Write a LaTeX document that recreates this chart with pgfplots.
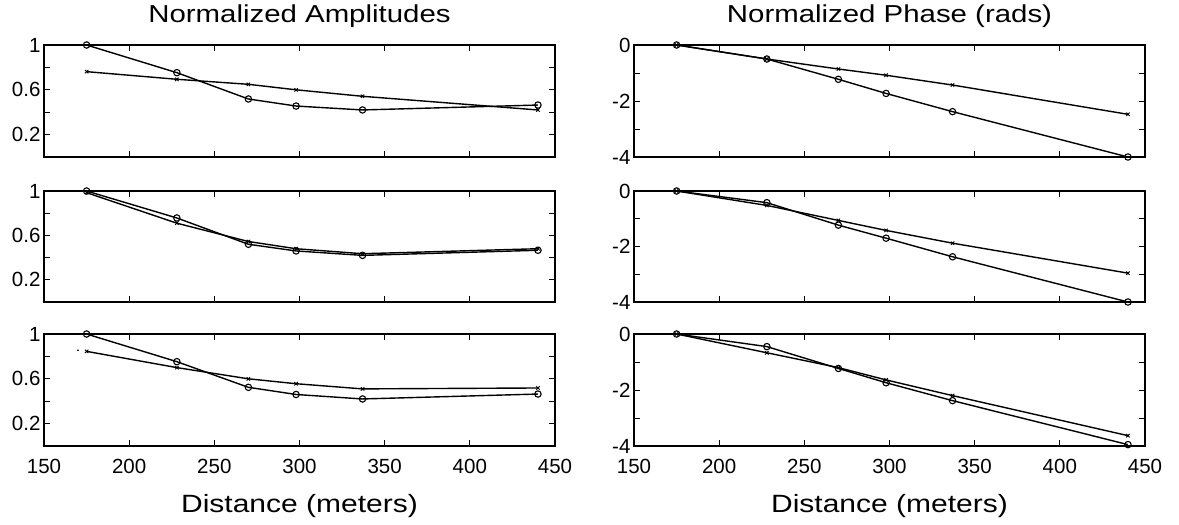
\documentclass[border=0pt]{standalone}
\usepackage{fontspec}
\setmainfont{Liberation Sans}
\newfontfamily\widefont[FakeStretch=1.2]{Liberation Sans}
\usepackage{pgfplots}
\pgfplotsset{compat=1.18}
\begin{document}
\begin{tikzpicture}
\useasboundingbox (0,0) rectangle (1179pt,-525pt);
\pgfplotsset{
 panel/.style={scale only axis, width=511pt, anchor=north west,
   axis line style={line width=1.7pt}, major tick style={line width=1pt, black}, major tick length=6pt,
   tick align=inside, xmin=150, xmax=450, xtick={150,200,...,450},
   ticklabel style={font=\fontsize{20.5}{20.5}\selectfont},
   xticklabel style={anchor=base, yshift=-27pt},
   clip=false,
   title style={font=\widefont\fontsize{24.5}{24.5}\selectfont, at={(axis description cs:0.5,1)}, anchor=base, yshift=17pt},
   xlabel style={font=\widefont\fontsize{25}{25}\selectfont, at={(axis description cs:0.5,0)}, anchor=base, yshift=-66pt},
 },
 amp/.style={panel, ymin=0, ymax=1, ytick={0.2,0.4,...,1.0}, yticklabels={0.2,,0.6,,1}},
 pha/.style={panel, ymin=-4, ymax=0, ytick={-4,-3,...,0}, yticklabels={-4,,-2,,0}},
 notx/.style={xticklabels={}},
 botx/.style={xticklabels={150,200,250,300,350,400,450}, xlabel={Distance (meters)}},
 circ/.style={black, line width=1.4pt, mark=o, mark size=3.2pt, mark options={line width=1.1pt, solid}},
 crs/.style={black, line width=1.4pt, mark=x, mark size=2.4pt, mark options={line width=0.9pt, solid}},
}
% ---- left column ----
\begin{axis}[amp, notx, at={(44pt,-45pt)}, height=112pt, title={Normalized Amplitudes}]
\addplot[circ] coordinates {(175,1.0) (228,0.753) (270,0.518) (298,0.455) (337,0.42) (440,0.464)};
\addplot[crs] coordinates {(175,0.762) (228,0.694) (270,0.649) (298,0.60) (337,0.542) (440,0.42)};
\end{axis}
\begin{axis}[amp, notx, at={(44pt,-191pt)}, height=111pt]
\addplot[circ] coordinates {(175,1.0) (228,0.757) (270,0.52) (298,0.46) (337,0.42) (440,0.466)};
\addplot[crs] coordinates {(175,0.985) (228,0.71) (270,0.545) (298,0.48) (337,0.435) (440,0.48)};
\end{axis}
\begin{axis}[amp, botx, at={(44pt,-334pt)}, height=112pt]
\addplot[circ] coordinates {(175,1.0) (228,0.753) (270,0.524) (298,0.46) (337,0.42) (440,0.464)};
\addplot[crs] coordinates {(175,0.845) (228,0.70) (270,0.60) (298,0.556) (337,0.51) (440,0.518)};
\addplot[only marks, mark=*, mark size=0.6pt, black] coordinates {(170,0.855)};
\end{axis}
% ---- right column ----
\begin{axis}[pha, notx, at={(634pt,-45pt)}, height=112pt, title={Normalized Phase (rads)}]
\addplot[circ] coordinates {(175,0) (228,-0.5) (270,-1.225) (298,-1.73) (337,-2.38) (440,-4)};
\addplot[crs] coordinates {(175,0) (228,-0.5) (270,-0.857) (298,-1.08) (337,-1.43) (440,-2.475)};
\end{axis}
\begin{axis}[pha, notx, at={(634pt,-191pt)}, height=111pt]
\addplot[circ] coordinates {(175,0) (228,-0.42) (270,-1.23) (298,-1.70) (337,-2.37) (440,-4)};
\addplot[crs] coordinates {(175,0) (228,-0.52) (270,-1.06) (298,-1.42) (337,-1.88) (440,-2.96)};
\end{axis}
\begin{axis}[pha, botx, at={(634pt,-334pt)}, height=112pt]
\addplot[circ] coordinates {(175,0) (228,-0.45) (270,-1.23) (298,-1.74) (337,-2.38) (440,-3.95)};
\addplot[crs] coordinates {(175,0) (228,-0.67) (270,-1.2) (298,-1.64) (337,-2.2) (440,-3.63)};
\end{axis}
\end{tikzpicture}
\end{document}
